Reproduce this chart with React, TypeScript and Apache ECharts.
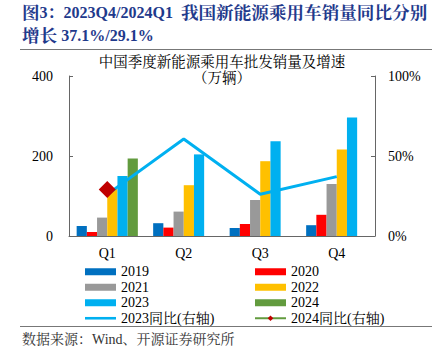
import React, { useEffect, useRef } from "react";
import * as echarts from "echarts";

const categories = ["Q1", "Q2", "Q3", "Q4"];
const sales2019 = [25, 32, 20, 27];
const sales2020 = [10, 21, 30, 53];
const sales2021 = [46, 61, 90, 130];
const sales2022 = [118, 127, 187, 216];
const sales2023 = [150, 204, 237, 296];
const sales2024 = [194, null, null, null];
const yoy2023 = [26, 60.6, 26.1, 37.1];
const yoy2024 = [29.1, null, null, null];
const leftTicks = { min: 0, max: 400, interval: 200 };
const rightTicks = { min: 0, max: 100, interval: 50 };

const FONT = "'Times New Roman', 'Liberation Serif', 'Noto Serif CJK SC', 'Noto Sans CJK SC', serif";

export default function App() {
  const ref = useRef<HTMLDivElement>(null);
  useEffect(() => {
    if (!ref.current) return;
    const chart = echarts.init(ref.current, undefined, { renderer: "svg" });
    const barNames = ["2019", "2020", "2021", "2022", "2023", "2024"];
    const barData = [sales2019, sales2020, sales2021, sales2022, sales2023, sales2024];
    const barColors = ["#0070C0", "#FF0000", "#999999", "#FFC000", "#00B0F0", "#629B3E"];
    const barSeries = barNames.map((n, i) => ({
      name: n,
      type: "bar",
      data: barData[i],
      barGap: "0%",
      barCategoryGap: "20%",
      itemStyle: { color: barColors[i] },
    }));
    const legendText = { fontFamily: FONT, fontSize: 14, color: "#000", lineHeight: 15.5 };
    const lineIcon = "path://M0,0h31v2.6h-31z";
    const titleRich = {
      c: { fontFamily: FONT, fontSize: 17.6, fontWeight: "bold", fill: "#1F3A8C", color: "#1F3A8C", lineHeight: 23 },
      l: { fontFamily: FONT, fontSize: 16, fontWeight: "bold", fill: "#1F3A8C", color: "#1F3A8C", lineHeight: 23 },
    };
    chart.setOption({
      animation: false,
      textStyle: { fontFamily: FONT },
      grid: { left: 69, right: 67, top: 76, bottom: 125 },
      legend: [
        {
          orient: "vertical",
          left: 80,
          top: 259,
          itemWidth: 31,
          itemHeight: 7,
          itemGap: 0,
          textStyle: legendText,
          data: [
            { name: "2019", icon: "rect" },
            { name: "2021", icon: "rect" },
            { name: "2023", icon: "rect" },
            { name: "2023同比(右轴)", icon: lineIcon },
          ],
        },
        {
          orient: "vertical",
          left: 249,
          top: 259,
          itemWidth: 31,
          itemHeight: 7,
          itemGap: 0,
          textStyle: legendText,
          data: [
            { name: "2020", icon: "rect" },
            { name: "2022", icon: "rect" },
            { name: "2024", icon: "rect" },
            { name: "2024同比(右轴)" },
          ],
        },
      ],
      xAxis: {
        type: "category",
        data: categories,
        boundaryGap: true,
        axisLine: { lineStyle: { color: "#666", width: 1 } },
        axisTick: { inside: true, length: 4, lineStyle: { color: "#666" } },
        axisLabel: { fontFamily: FONT, fontSize: 14, color: "#000", margin: 10 },
      },
      yAxis: [
        {
          type: "value",
          ...leftTicks,
          splitLine: { show: false },
          axisLine: { show: true, lineStyle: { color: "#666" } },
          axisTick: { show: true, inside: true, length: 4, lineStyle: { color: "#666" } },
          axisLabel: { fontFamily: FONT, fontSize: 14, color: "#000", margin: 16 },
        },
        {
          type: "value",
          ...rightTicks,
          position: "right",
          splitLine: { show: false },
          axisLine: { show: true, lineStyle: { color: "#666" } },
          axisTick: { show: true, inside: true, length: 4, lineStyle: { color: "#666" } },
          axisLabel: { fontFamily: FONT, fontSize: 14, color: "#000", margin: 13, formatter: "{value}%" },
        },
      ],
      series: [
        ...barSeries,
        {
          name: "2023同比(右轴)",
          type: "line",
          yAxisIndex: 1,
          data: yoy2023,
          symbol: "none",
          lineStyle: { color: "#00B0F0", width: 3 },
          itemStyle: { color: "#00B0F0" },
        },
        {
          name: "2024同比(右轴)",
          type: "line",
          yAxisIndex: 1,
          data: yoy2024,
          symbol: "diamond",
          symbolSize: 17,
          lineStyle: { color: "#629B3E", width: 3 },
          itemStyle: { color: "#C00000" },
        },
      ],
      graphic: [
        {
          type: "text",
          left: 22,
          top: 1,
          style: {
            text: "{c|图}{l|3：2023Q4/2024Q1  }{c|我国新能源乘用车销量同比分别}\n{c|增长}{l| 37.1%/29.1%}",
            rich: titleRich,
            fontFamily: FONT,
            fontSize: 16,
            fontWeight: "bold",
            lineHeight: 23,
            fill: "#1F3A8C",
          },
        },
        {
          type: "line",
          shape: { x1: 20, y1: 49.5, x2: 432, y2: 49.5 },
          style: { stroke: "#777", lineWidth: 1 },
        },
        {
          type: "text",
          x: 222,
          y: 62,
          style: {
            text: "中国季度新能源乘用车批发销量及增速",
            fontFamily: FONT,
            fontSize: 14.5,
            fill: "#000",
            align: "center",
            verticalAlign: "middle",
          },
        },
        {
          type: "text",
          x: 222,
          y: 78,
          style: {
            text: "（万辆）",
            fontFamily: FONT,
            fontSize: 14.5,
            fill: "#000",
            align: "center",
            verticalAlign: "middle",
          },
        },
        {
          type: "line",
          shape: { x1: 20, y1: 326.5, x2: 432, y2: 326.5 },
          style: { stroke: "#777", lineWidth: 1 },
        },
        {
          type: "text",
          x: 22,
          y: 339,
          style: {
            text: "数据来源：Wind、开源证券研究所",
            fontFamily: FONT,
            fontSize: 14,
            fill: "#333",
            verticalAlign: "middle",
          },
        },
      ],
    });
    return () => chart.dispose();
  }, []);
  return <div ref={ref} style={{ width: 442, height: 361, position: "absolute", left: 0, top: 0 }} />;
}
